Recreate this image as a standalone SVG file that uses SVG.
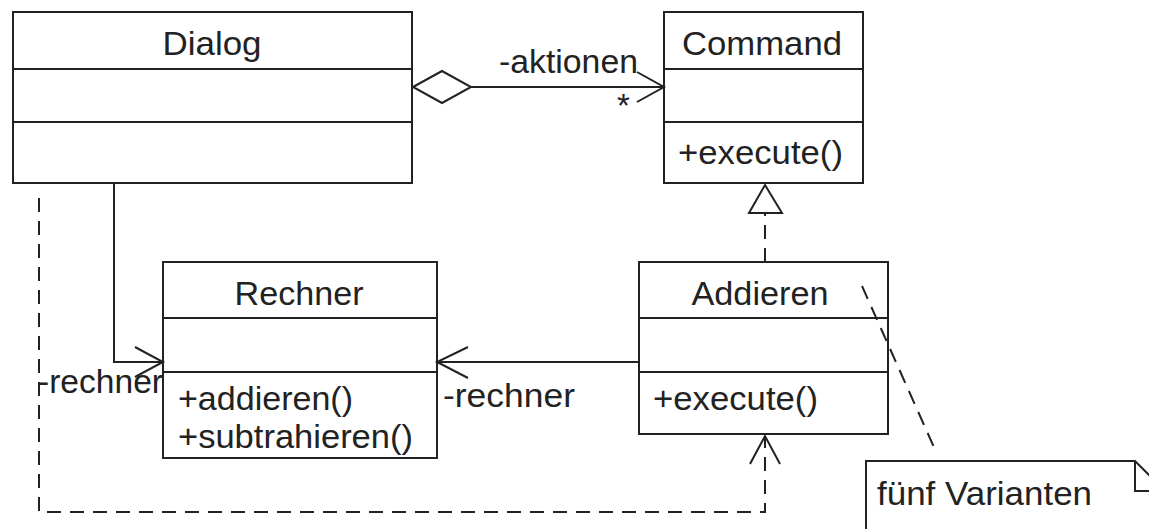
<svg xmlns="http://www.w3.org/2000/svg" width="1149" height="529" viewBox="0 0 1149 529">
<style>
.box{fill:#fff;stroke:#222;stroke-width:2}
.ln{fill:none;stroke:#222;stroke-width:2}
.dash{fill:none;stroke:#222;stroke-width:2;stroke-dasharray:14 9}
text{font-family:"Liberation Sans",Arial,sans-serif;font-size:33px;fill:#222}
.c{text-anchor:middle}
</style>
<rect width="1149" height="529" fill="#fff"/>
<g id="Dialog">
  <rect class="box" x="13" y="12" width="399" height="171"/>
  <line class="ln" x1="13" y1="69" x2="412" y2="69"/>
  <line class="ln" x1="13" y1="122" x2="412" y2="122"/>
  <text class="c" x="212" y="55" textLength="99" lengthAdjust="spacingAndGlyphs">Dialog</text>
</g>
<g id="Command">
  <rect class="box" x="664" y="12" width="199" height="171"/>
  <line class="ln" x1="664" y1="69" x2="863" y2="69"/>
  <line class="ln" x1="664" y1="122" x2="863" y2="122"/>
  <text class="c" x="762" y="55" textLength="160" lengthAdjust="spacingAndGlyphs">Command</text>
  <text x="678" y="164" textLength="165" lengthAdjust="spacingAndGlyphs">+execute()</text>
</g>
<g id="Rechner">
  <rect class="box" x="163" y="262" width="274" height="196"/>
  <line class="ln" x1="163" y1="318" x2="437" y2="318"/>
  <line class="ln" x1="163" y1="372" x2="437" y2="372"/>
  <text class="c" x="299" y="305" textLength="129" lengthAdjust="spacingAndGlyphs">Rechner</text>
  <text x="178" y="410" textLength="175" lengthAdjust="spacingAndGlyphs">+addieren()</text>
  <text x="178" y="448" textLength="235" lengthAdjust="spacingAndGlyphs">+subtrahieren()</text>
</g>
<g id="Addieren">
  <rect class="box" x="639" y="262" width="249" height="172"/>
  <line class="ln" x1="639" y1="318" x2="888" y2="318"/>
  <line class="ln" x1="639" y1="372" x2="888" y2="372"/>
  <text class="c" x="760" y="305" textLength="137" lengthAdjust="spacingAndGlyphs">Addieren</text>
  <text x="653" y="410" textLength="165" lengthAdjust="spacingAndGlyphs">+execute()</text>
</g>
<g id="Note">
  <path class="box" d="M866,535 V461 H1135 L1165,491 V535"/>
  <polyline class="ln" points="1135,461 1135,491 1165,491"/>
  <text x="877" y="505" textLength="215" lengthAdjust="spacingAndGlyphs">fünf Varianten</text>
</g>
<g id="connectors">
  <!-- aggregation Dialog -> Command -->
  <polygon class="box" points="413,87 442,71 471,87 442,103"/>
  <line class="ln" x1="471" y1="87" x2="664" y2="87"/>
  <polyline class="ln" points="637,72 664,87 637,102"/>
  <text x="499" y="73" textLength="139" lengthAdjust="spacingAndGlyphs">-aktionen</text>
  <text x="617" y="117">*</text>
  <!-- realization Addieren -> Command -->
  <line class="dash" x1="765" y1="262" x2="765" y2="213"/>
  <polygon class="box" points="765,185 749,213 782,213"/>
  <!-- Dialog -> Rechner -->
  <polyline class="ln" points="114,183 114,362 163,362"/>
  <polyline class="ln" points="135,347 163,362 135,377"/>
  <text x="38" y="393" textLength="125" lengthAdjust="spacingAndGlyphs">-rechner</text>
  <!-- Addieren -> Rechner -->
  <line class="ln" x1="639" y1="362" x2="437" y2="362"/>
  <polyline class="ln" points="468,347 437,362 468,378"/>
  <text x="443" y="407" textLength="132" lengthAdjust="spacingAndGlyphs">-rechner</text>
  <!-- Dialog -> Addieren dependency -->
  <polyline class="dash" points="39,198 39,512 765,512 765,436"/>
  <polyline class="ln" points="750,464 765,436 780,464"/>
  <!-- note anchor -->
  <line class="dash" x1="862" y1="286" x2="937" y2="454" stroke-dasharray="12 9"/>
</g>
</svg>
